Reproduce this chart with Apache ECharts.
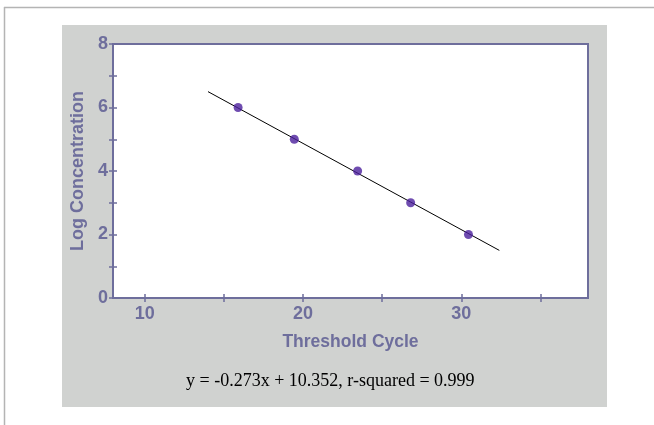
<!DOCTYPE html>
<html>
<head>
<meta charset="utf-8">
<script src="https://cdn.jsdelivr.net/npm/echarts@6/dist/echarts.min.js"></script>
<style>
  html, body { margin: 0; padding: 0; background: #fff; }
  #chart { width: 654px; height: 425px; }
</style>
</head>
<body>
<div id="chart"></div>
<script>
// standard curve points (threshold cycle vs log concentration)
var ctValues = [15.9, 19.45, 23.45, 26.8, 30.45];
var logValues = [6, 5, 4, 3, 2];
// ends of the fitted line
var fitX = [14.0, 32.4];
var fitY = [6.5, 1.5];
// axis ticks / labels
var xTicks = [10, 15, 20, 25, 30, 35];
var xLabels = [10, 20, 30];
var yTicks = [0, 1, 2, 3, 4, 5, 6, 7, 8];
var yLabels = [0, 2, 4, 6, 8];
var equationText = 'y = -0.273x + 10.352, r-squared = 0.999';

var axisColor = '#6e6e9c';
var fontFam = 'Liberation Sans, Arial, sans-serif';
var tickFont = { color: axisColor, fontFamily: fontFam, fontWeight: 'bold', fontSize: 18 };

var myChart = echarts.init(document.getElementById('chart'), null, { renderer: 'canvas' });

var option = {
  backgroundColor: '#ffffff',
  animation: false,
  graphic: [
    // outer frame lines
    { type: 'line', shape: { x1: 4, y1: 7.5, x2: 654, y2: 7.5 }, style: { stroke: '#b4b4b4', lineWidth: 1.5 }, z: -10 },
    { type: 'line', shape: { x1: 4.5, y1: 7, x2: 4.5, y2: 425 }, style: { stroke: '#b4b4b4', lineWidth: 1.5 }, z: -10 },
    // gray panel
    { type: 'rect', shape: { x: 62, y: 25, width: 545, height: 382 }, style: { fill: '#d0d2d0' }, z: -10 },
    // regression equation
    {
      type: 'text',
      left: 186,
      top: 372,
      style: {
        text: equationText,
        fill: '#000',
        font: '18px "Liberation Serif", "Times New Roman", serif'
      }
    }
  ],
  grid: {
    left: 113,
    right: 66,
    top: 44,
    bottom: 127,
    show: true,
    backgroundColor: '#ffffff',
    borderColor: axisColor,
    borderWidth: 2
  },
  xAxis: [
    {
      type: 'value',
      min: 8,
      max: 38,
      name: 'Threshold Cycle',
      nameLocation: 'middle',
      nameGap: 35,
      nameTextStyle: { color: axisColor, fontFamily: fontFam, fontWeight: 'bold', fontSize: 17.5 },
      axisLine: { show: true, lineStyle: { color: axisColor, width: 2 } },
      axisTick: { show: true, length: 4, customValues: xTicks, lineStyle: { color: axisColor, width: 1.5 } },
      axisLabel: Object.assign({ customValues: xLabels, margin: 7 }, tickFont),
      splitLine: { show: false }
    },
    {
      // inner half of the crossing ticks
      type: 'value',
      min: 8,
      max: 38,
      position: 'bottom',
      axisLine: { show: false },
      axisTick: { show: true, inside: true, length: 4, customValues: xTicks, lineStyle: { color: axisColor, width: 1.5 } },
      axisLabel: { show: false },
      splitLine: { show: false }
    }
  ],
  yAxis: [
    {
      type: 'value',
      min: 0,
      max: 8,
      interval: 1,
      name: 'Log Concentration',
      nameLocation: 'middle',
      nameGap: 21,
      nameTextStyle: { color: axisColor, fontFamily: fontFam, fontWeight: 'bold', fontSize: 18 },
      axisLine: { show: true, lineStyle: { color: axisColor, width: 2 } },
      axisTick: { show: true, length: 4, customValues: yTicks, lineStyle: { color: axisColor, width: 1.5 } },
      axisLabel: Object.assign({ customValues: yLabels, margin: 5 }, tickFont),
      splitLine: { show: false }
    },
    {
      type: 'value',
      min: 0,
      max: 8,
      interval: 1,
      position: 'left',
      axisLine: { show: false },
      axisTick: { show: true, inside: true, length: 4, customValues: yTicks, lineStyle: { color: axisColor, width: 1.5 } },
      axisLabel: { show: false },
      splitLine: { show: false }
    }
  ],
  series: [
    {
      name: 'fit',
      type: 'line',
      xAxisIndex: 0,
      yAxisIndex: 0,
      data: fitX.map(function (x, i) { return [x, fitY[i]]; }),
      symbol: 'none',
      lineStyle: { color: '#000000', width: 1 },
      z: 2
    },
    {
      name: 'standards',
      type: 'scatter',
      xAxisIndex: 0,
      yAxisIndex: 0,
      data: ctValues.map(function (x, i) { return [x, logValues[i]]; }),
      symbol: 'circle',
      symbolSize: 9,
      itemStyle: { color: '#4b1f9c' },
      z: 3
    }
  ]
};

myChart.setOption(option);
window.addEventListener('resize', function () {
  myChart.resize();
});
</script>
</body>
</html>
